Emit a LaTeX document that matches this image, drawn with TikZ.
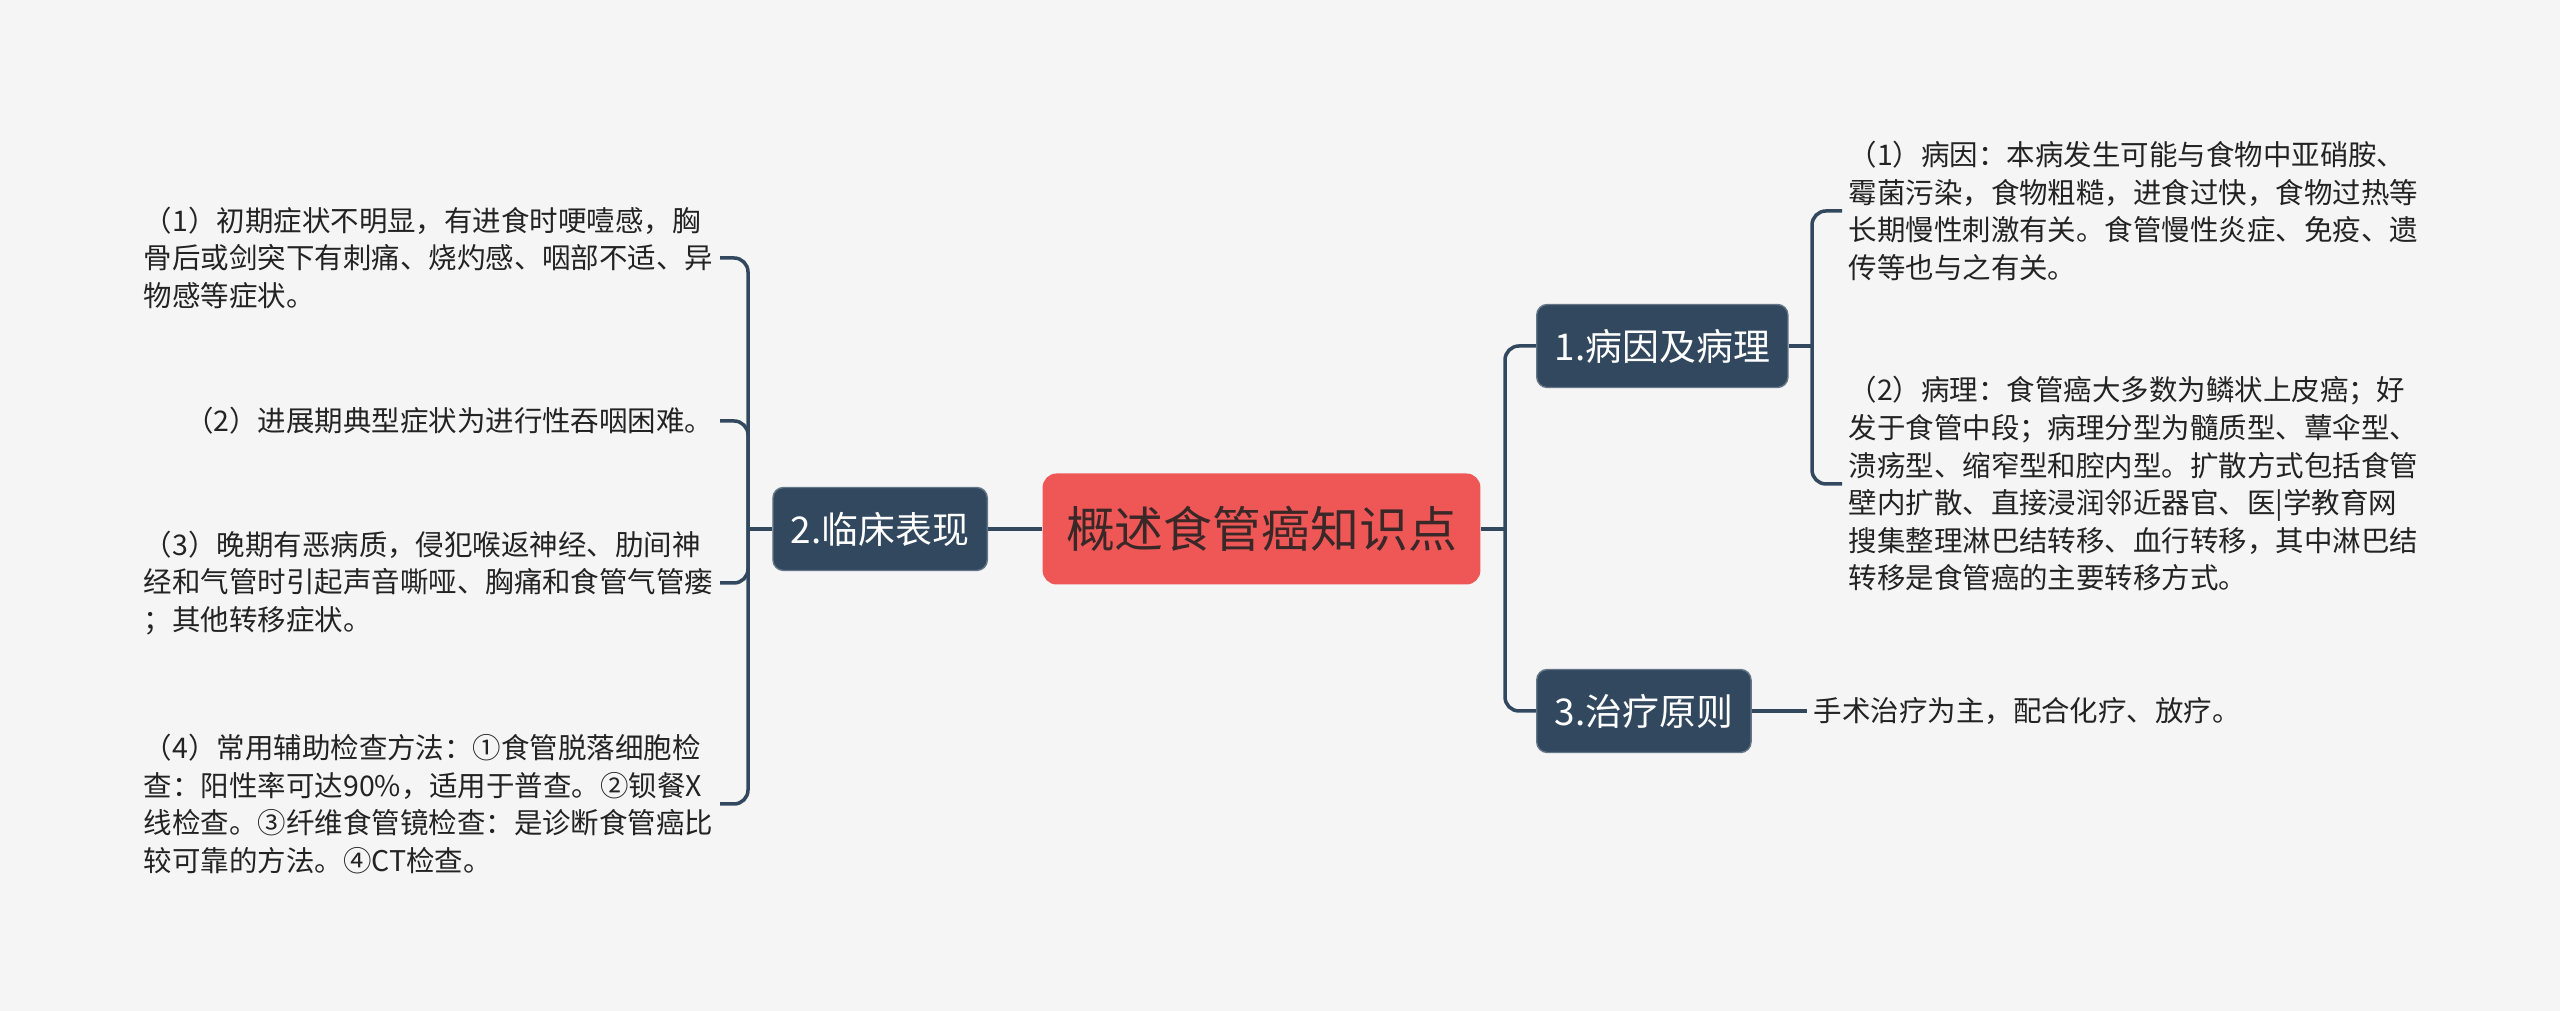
\documentclass[tikz,border=0pt]{standalone}
\usepackage{fontspec}
\setmainfont{Noto Sans CJK SC}
\usetikzlibrary{positioning}
\definecolor{slate}{RGB}{50,72,95}
\definecolor{coral}{RGB}{239,87,87}
\definecolor{paper}{RGB}{245,245,245}
\definecolor{inkgray}{RGB}{35,35,35}
\definecolor{rootink}{RGB}{58,40,40}

\begin{document}
\begin{tikzpicture}[
  rootbox/.style={fill=coral, text=rootink, rounded corners=4pt, minimum height=1.11cm, inner xsep=0.235cm, font=\fontsize{13.9}{16}\selectfont},
  branchbox/.style={fill=slate, draw=slate!75!white, text=white, rounded corners=3pt, minimum height=0.83cm, inner xsep=0.18cm, font=\fontsize{10.5}{12}\selectfont},
  leaftext/.style={text=inkgray, align=left, inner sep=0.06cm, font=\fontsize{8.1}{10.7}\selectfont},
  link/.style={draw=slate, line width=1pt, rounded corners=0.14cm}
]
            \fill[paper] (0,0) rectangle (25.6,10.11);

            % root and main branches
            \node[rootbox] (root) at (12.615,4.82) {概述食管癌知识点};
            \node[branchbox, anchor=east] (clin) at (9.88,4.82) {2.临床表现};
            \node[branchbox, anchor=west] (cause) at (15.36,6.65) {1.病因及病理};
            \node[branchbox, anchor=west] (treat) at (15.36,3.00) {3.治疗原则};

            % left leaves
            \node[leaftext, anchor=east] (l1) at (7.20,7.53) {（1）初期症状不明显，有进食时哽噎感，胸\\骨后或剑突下有刺痛、烧灼感、咽部不适、异\\物感等症状。};
            \node[leaftext, anchor=east] (l2) at (7.20,5.90) {（2）进展期典型症状为进行性吞咽困难。};
            \node[leaftext, anchor=east] (l3) at (7.20,4.28) {（3）晚期有恶病质，侵犯喉返神经、肋间神\\经和气管时引起声音嘶哑、胸痛和食管气管瘘\\；其他转移症状。};
            \node[leaftext, anchor=east] (l4) at (7.20,2.07) {（4）常用辅助检查方法：①食管脱落细胞检\\查：阳性率可达90\%，适用于普查。②钡餐X\\线检查。③纤维食管镜检查：是诊断食管癌比\\较可靠的方法。④CT检查。};

            % right leaves
            \node[leaftext, anchor=west] (r1) at (18.42,8.00) {（1）病因：本病发生可能与食物中亚硝胺、\\霉菌污染，食物粗糙，进食过快，食物过热等\\长期慢性刺激有关。食管慢性炎症、免疫、遗\\传等也与之有关。};
            \node[leaftext, anchor=west] (r2) at (18.42,5.27) {（2）病理：食管癌大多数为鳞状上皮癌；好\\发于食管中段；病理分型为髓质型、蕈伞型、\\溃疡型、缩窄型和腔内型。扩散方式包括食管\\壁内扩散、直接浸润邻近器官、医|学教育网\\搜集整理淋巴结转移、血行转移，其中淋巴结\\转移是食管癌的主要转移方式。};
            \node[leaftext, anchor=west] (t1) at (18.07,3.00) {手术治疗为主，配合化疗、放疗。};

            % connectors
            \coordinate (lj) at (7.48,4.82);
            \coordinate (rj) at (15.05,4.82);
            \coordinate (cj) at (18.12,6.65);
            \draw[link] (root.west) -- (clin.east);
            \draw[link] (clin.west) -- (lj);
            \foreach \n in {l1,l2,l3,l4}
                \draw[link] (lj) |- (\n.east);
            \draw[link] (root.east) -- (rj);
            \draw[link] (rj) |- (cause.west);
            \draw[link] (rj) |- (treat.west);
            \draw[link] (cause.east) -- (cj);
            \draw[link] (cj) |- (r1.west);
            \draw[link] (cj) |- (r2.west);
            \draw[link] (treat.east) -- (t1.west);
        \end{tikzpicture}
\end{document}
